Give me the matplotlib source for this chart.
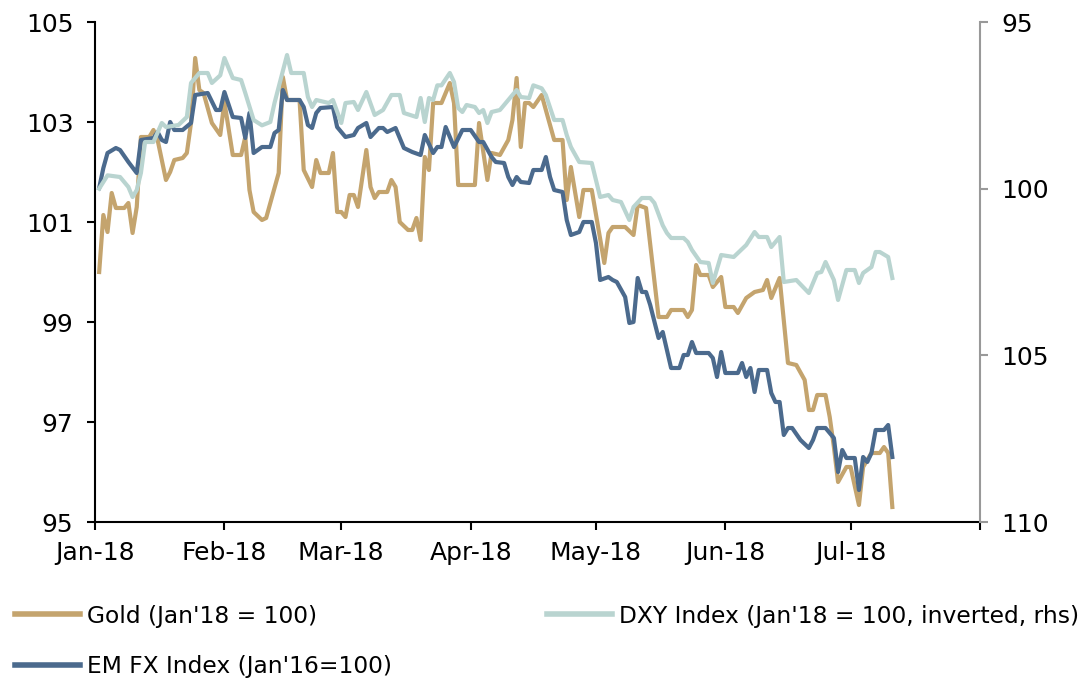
import numpy as np
import matplotlib
matplotlib.use("Agg")
import matplotlib.pyplot as plt
import matplotlib.dates as mdates
from matplotlib.lines import Line2D

# ---- data (days since 1 Jan 2018, index values) ----
gold_days = [1, 2, 3, 4, 5, 7, 8, 9, 10, 11, 13, 14, 15, 17, 18, 19, 21, 22, 23, 24, 25, 26, 28, 30,
             31, 33, 35, 36, 37, 38, 40, 41, 44, 45, 46, 49, 50, 52, 53, 54, 56, 57, 58, 59, 60, 61,
             62, 63, 65, 66, 67, 68, 70, 71, 72, 73, 75, 76, 77, 78, 79, 80, 81, 83, 85, 86, 87, 91,
             92, 94, 95, 97, 99, 100, 101, 102, 103, 104, 105, 107, 110, 112, 113, 114, 116, 117,
             119, 122, 123, 124, 127, 129, 130, 132, 135, 137, 138, 141, 142, 143, 144, 145, 147,
             148, 150, 151, 153, 154, 156, 158, 160, 161, 162, 164, 166, 168, 170, 171, 172, 173,
             175, 176, 177, 178, 180, 181, 183, 184, 186, 188, 189, 190, 191]
gold_vals = [100.0, 101.14, 100.8, 101.58, 101.28, 101.28, 101.38, 100.78, 101.3, 102.7, 102.7, 102.84,
             102.64, 101.84, 102.0, 102.24, 102.28, 102.38, 102.98, 104.28, 103.64, 103.58, 102.98,
             102.74, 103.4, 102.34, 102.34, 102.7, 101.64, 101.2, 101.04, 101.08, 101.98, 103.9,
             103.44, 103.44, 102.04, 101.7, 102.24, 101.98, 101.98, 102.38, 101.2, 101.2, 101.1,
             101.54, 101.54, 101.3, 102.44, 101.7, 101.48, 101.6, 101.6, 101.84, 101.7, 101.0, 100.84,
             100.84, 101.08, 100.64, 102.3, 102.04, 103.38, 103.38, 103.78, 103.38, 101.74, 101.74,
             102.98, 101.84, 102.38, 102.34, 102.64, 103.04, 103.88, 102.5, 103.38, 103.38, 103.3,
             103.54, 102.64, 102.64, 101.44, 102.1, 101.1, 101.64, 101.64, 100.18, 100.78, 100.9,
             100.9, 100.74, 101.34, 101.28, 99.1, 99.1, 99.24, 99.24, 99.1, 99.24, 100.14, 99.94,
             99.94, 99.7, 99.9, 99.3, 99.3, 99.18, 99.48, 99.6, 99.64, 99.84, 99.48, 99.88, 98.18,
             98.14, 97.84, 97.24, 97.24, 97.54, 97.54, 97.1, 96.5, 95.8, 96.1, 96.1, 95.34, 96.1,
             96.38, 96.38, 96.5, 96.38, 95.3]

dxy_days = [1, 3, 6, 8, 9, 10, 11, 12, 14, 16, 17, 20, 22, 23, 25, 27, 28, 30, 31, 33, 35, 36, 38,
            40, 42, 43, 46, 47, 50, 51, 52, 53, 56, 57, 59, 60, 62, 63, 65, 67, 69, 71, 73, 74, 77,
            78, 79, 80, 81, 82, 83, 85, 86, 87, 88, 89, 91, 92, 93, 94, 95, 97, 99, 101, 102, 104,
            105, 107, 108, 110, 112, 113, 114, 116, 119, 120, 121, 123, 124, 126, 128, 129, 131,
            133, 134, 136, 137, 138, 141, 142, 143, 145, 147, 148, 150, 153, 154, 156, 158, 159,
            161, 162, 164, 165, 168, 171, 173, 174, 175, 177, 178, 180, 182, 183, 184, 186, 187,
            188, 190, 191]
dxy_vals = [100.0, 99.6, 99.65, 99.95, 100.25, 100.04, 99.53, 98.6, 98.6, 98.03, 98.15, 98.09, 97.85,
            96.83, 96.53, 96.53, 96.83, 96.6, 96.08, 96.68, 96.74, 97.13, 97.94, 98.1, 98.0, 97.43,
            95.99, 96.53, 96.53, 97.25, 97.55, 97.34, 97.43, 97.34, 98.03, 97.43, 97.4, 97.64, 97.1,
            97.79, 97.64, 97.19, 97.19, 97.73, 97.85, 97.28, 98.0, 97.28, 97.34, 96.9, 96.9, 96.53,
            96.8, 97.58, 97.7, 97.49, 97.55, 97.73, 97.64, 98.03, 97.7, 97.64, 97.34, 97.04, 97.25,
            97.28, 96.9, 96.99, 97.19, 97.94, 97.94, 98.39, 98.75, 99.2, 99.23, 99.74, 100.25,
            100.19, 100.34, 100.4, 100.94, 100.55, 100.28, 100.28, 100.43, 101.1, 101.33, 101.48,
            101.48, 101.6, 101.84, 102.2, 102.23, 102.83, 101.99, 102.05, 101.93, 101.69, 101.3,
            101.45, 101.45, 101.75, 101.45, 102.8, 102.74, 103.13, 102.53, 102.5, 102.2, 102.74,
            103.34, 102.44, 102.44, 102.83, 102.53, 102.35, 101.9, 101.9, 102.05, 102.68]

em_days = [1, 2, 3, 5, 6, 8, 10, 11, 14, 15, 16, 17, 18, 19, 21, 23, 24, 27, 29, 30, 31, 33, 35, 36,
           37, 38, 40, 42, 43, 44, 45, 46, 49, 50, 51, 52, 53, 54, 57, 58, 60, 62, 63, 65, 66, 68,
           69, 70, 72, 74, 76, 78, 79, 81, 82, 83, 84, 86, 88, 90, 92, 93, 95, 96, 98, 99, 100, 101,
           102, 104, 105, 107, 108, 109, 110, 112, 113, 114, 116, 117, 119, 120, 121, 123, 124, 125,
           127, 128, 129, 130, 131, 132, 133, 135, 136, 137, 138, 140, 141, 142, 143, 144, 147, 148,
           149, 150, 151, 154, 155, 156, 157, 158, 159, 161, 162, 163, 164, 165, 166, 167, 169, 171,
           172, 173, 175, 177, 178, 179, 180, 182, 183, 184, 185, 186, 187, 189, 190, 191]
em_vals = [101.68, 102.08, 102.38, 102.48, 102.44, 102.2, 101.98, 102.64, 102.68, 102.8, 102.64, 102.6,
           103.0, 102.84, 102.84, 102.98, 103.54, 103.58, 103.24, 103.24, 103.6, 103.1, 103.08,
           102.68, 103.18, 102.38, 102.5, 102.5, 102.78, 102.84, 103.64, 103.44, 103.44, 103.3,
           102.94, 102.88, 103.18, 103.28, 103.3, 102.9, 102.7, 102.74, 102.88, 102.98, 102.7,
           102.88, 102.88, 102.8, 102.88, 102.48, 102.4, 102.34, 102.74, 102.38, 102.5, 102.5,
           102.9, 102.5, 102.84, 102.84, 102.6, 102.6, 102.3, 102.2, 102.18, 101.9, 101.74, 101.9,
           101.8, 101.78, 102.04, 102.04, 102.3, 101.9, 101.64, 101.6, 101.04, 100.74, 100.8, 101.0,
           101.0, 100.58, 99.84, 99.9, 99.84, 99.8, 99.5, 98.98, 99.0, 99.88, 99.6, 99.6, 99.34,
           98.68, 98.8, 98.44, 98.08, 98.08, 98.34, 98.34, 98.6, 98.38, 98.38, 98.28, 97.9, 98.4,
           97.98, 97.98, 98.18, 97.9, 98.08, 97.6, 98.04, 98.04, 97.58, 97.4, 97.4, 96.74, 96.88,
           96.88, 96.64, 96.48, 96.64, 96.88, 96.88, 96.68, 96.0, 96.44, 96.28, 96.28, 95.64, 96.3,
           96.2, 96.38, 96.84, 96.84, 96.94, 96.3]

labels = ["Gold (Jan'18 = 100)", "EM FX Index (Jan'16=100)", "DXY Index (Jan'18 = 100, inverted, rhs)"]
left_ticks = [95, 97, 99, 101, 103, 105]
right_ticks = [95, 100, 105, 110]

C_GOLD = "#C4A46E"
C_DXY = "#B9D4D0"
C_EM = "#4B6A8D"

start = np.datetime64("2018-01-01")
to_dates = lambda d: start + np.array(d, dtype="timedelta64[D]")

plt.rcParams["font.family"] = ["DejaVu Sans"]
FS = 18
LFS = 16.8

fig = plt.figure(figsize=(10.81, 6.84), dpi=100)
ax = fig.add_axes([95 / 1081, 1 - 522 / 684, (980 - 95) / 1081, 500 / 684])
ax2 = ax.twinx()

ax.plot(to_dates(gold_days), gold_vals, color=C_GOLD, lw=3, solid_joinstyle="round")
ax.plot(to_dates(em_days), em_vals, color=C_EM, lw=3, solid_joinstyle="round")
ax2.plot(to_dates(dxy_days), dxy_vals, color=C_DXY, lw=3, solid_joinstyle="round")

ax.set_xlim(np.datetime64("2018-01-01"), np.datetime64("2018-08-01"))
ax.set_ylim(95, 105)
ax.set_yticks(left_ticks)
ax2.set_ylim(110, 95)
ax2.set_yticks(right_ticks)

months = [np.datetime64(f"2018-{m:02d}-01") for m in range(1, 9)]
ax.set_xticks(months)
ax.set_xticklabels([mdates.num2date(mdates.date2num(m)).strftime("%b-%y") for m in months[:-1]] + [""])

for a in (ax, ax2):
    a.spines["top"].set_visible(False)
ax.spines["right"].set_visible(False)
ax.spines["left"].set_color("black")
ax.spines["bottom"].set_color("black")
ax.spines["left"].set_linewidth(1.5)
ax.spines["bottom"].set_linewidth(1.5)
ax2.spines["left"].set_visible(False)
ax2.spines["bottom"].set_visible(False)
ax2.spines["right"].set_color("#999999")
ax2.spines["right"].set_linewidth(1.5)

ax.tick_params(axis="y", direction="out", length=5.5, width=1.5, labelsize=FS, pad=10)
ax.tick_params(axis="x", direction="out", length=5.5, width=1.5, labelsize=FS, pad=8)
ax2.tick_params(axis="y", direction="out", length=5.5, width=1.5, color="#999999", labelsize=FS, pad=10)

# legend entries placed individually: (colour, label, left x px, centre y px)
entries = [(C_GOLD, labels[0], 15, 616), (C_EM, labels[1], 15, 667), (C_DXY, labels[2], 547, 616)]
for col, lab, xp, yp in entries:
    fig.legend([Line2D([], [], color=col, lw=4)], [lab], loc="center left",
               bbox_to_anchor=(xp / 1081, 1 - yp / 684), frameon=False, fontsize=LFS,
               handlelength=2.8, handletextpad=0.3, borderpad=0, borderaxespad=0)

fig.savefig("out.png", dpi=100)
